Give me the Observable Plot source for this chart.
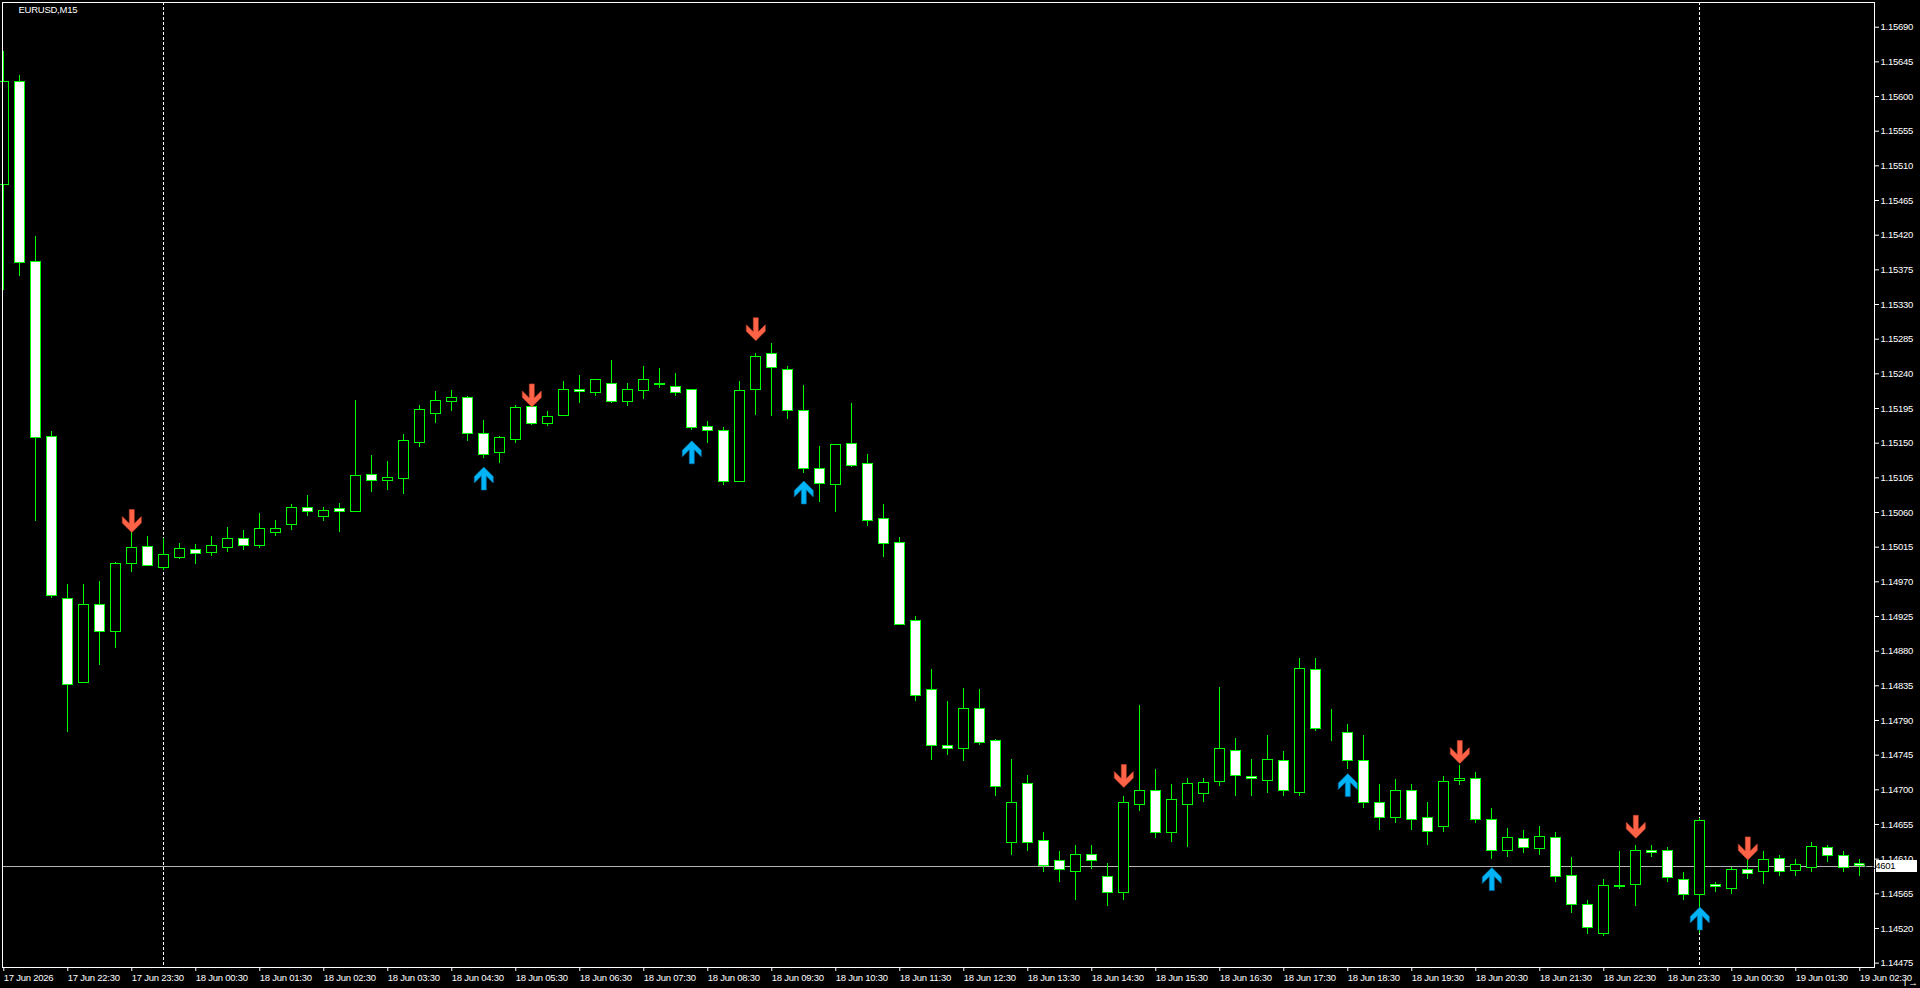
<!DOCTYPE html>
<html><head><meta charset="utf-8">
<script src="https://cdn.jsdelivr.net/npm/d3@7"></script>
<script src="https://cdn.jsdelivr.net/npm/@observablehq/plot@0.6"></script>
<style>html,body{margin:0;padding:0;background:#000;overflow:hidden}</style>
</head><body><div id="chart"></div>
<script>
const chartTitle = "EURUSD,M15";
// bar index 0 = 17 Jun 21:30, one bar per 15 minutes
const opens = [1.15485,1.15619,1.15385,1.15158,1.14948,1.14838,1.14940,1.14905,1.14993,1.15015,
1.14988,1.15001,1.15011,1.15008,1.15014,1.15026,1.15017,1.15034,1.15044,1.15066,
1.15054,1.15064,1.15060,1.15109,1.15101,1.15103,1.15150,1.15188,1.15204,1.15208,
1.15162,1.15137,1.15154,1.15197,1.15175,1.15185,1.15219,1.15215,1.15227,1.15204,
1.15218,1.15227,1.15223,1.15219,1.15171,1.15166,1.15100,1.15219,1.15266,1.15245,
1.15192,1.15117,1.15096,1.15149,1.15123,1.15052,1.15021,1.14919,1.14830,1.14757,
1.14753,1.14805,1.14763,1.14631,1.14707,1.14633,1.14607,1.14593,1.14615,1.14587,
1.14566,1.14680,1.14699,1.14644,1.14680,1.14695,1.14710,1.14750,1.14717,1.14712,
1.14738,1.14696,1.14855,1.14776,1.14774,1.14738,1.14683,1.14663,1.14698,1.14663,
1.14652,1.14712,1.14714,1.14661,1.14620,1.14636,1.14623,1.14637,1.14588,1.14550,
1.14513,1.14575,1.14577,1.14620,1.14620,1.14583,1.14563,1.14577,1.14571,1.14596,
1.14593,1.14610,1.14594,1.14598,1.14625,1.14614,1.14604];
const highs = [1.15659,1.15627,1.15418,1.15165,1.14967,1.14966,1.14970,1.14995,1.15035,1.15029,
1.15026,1.15020,1.15018,1.15029,1.15040,1.15037,1.15059,1.15050,1.15070,1.15082,
1.15066,1.15072,1.15205,1.15134,1.15126,1.15161,1.15199,1.15217,1.15218,1.15211,
1.15179,1.15159,1.15199,1.15198,1.15191,1.15230,1.15238,1.15233,1.15257,1.15228,
1.15250,1.15247,1.15240,1.15220,1.15178,1.15170,1.15230,1.15266,1.15279,1.15250,
1.15225,1.15146,1.15148,1.15201,1.15135,1.15071,1.15027,1.14925,1.14856,1.14815,
1.14832,1.14830,1.14765,1.14739,1.14718,1.14644,1.14620,1.14628,1.14628,1.14604,
1.14691,1.14809,1.14726,1.14707,1.14715,1.14715,1.14833,1.14766,1.14739,1.14771,
1.14750,1.14870,1.14870,1.14804,1.14785,1.14771,1.14707,1.14714,1.14707,1.14683,
1.14717,1.14731,1.14723,1.14676,1.14650,1.14647,1.14652,1.14644,1.14612,1.14556,
1.14583,1.14620,1.14628,1.14628,1.14625,1.14593,1.14663,1.14580,1.14599,1.14609,
1.14620,1.14615,1.14609,1.14631,1.14628,1.14620,1.14609];
const lows = [1.15348,1.15367,1.15048,1.14948,1.14774,1.14838,1.14862,1.14883,1.14982,1.14990,
1.14985,1.14999,1.14993,1.15003,1.15008,1.15011,1.15013,1.15029,1.15037,1.15055,
1.15048,1.15034,1.15060,1.15086,1.15088,1.15084,1.15145,1.15175,1.15191,1.15152,
1.15130,1.15123,1.15149,1.15173,1.15171,1.15184,1.15201,1.15210,1.15202,1.15197,
1.15207,1.15221,1.15210,1.15166,1.15149,1.15095,1.15100,1.15186,1.15184,1.15181,
1.15111,1.15073,1.15060,1.15118,1.15042,1.15002,1.14914,1.14815,1.14738,1.14745,
1.14737,1.14758,1.14691,1.14615,1.14620,1.14593,1.14580,1.14556,1.14596,1.14548,
1.14556,1.14672,1.14637,1.14631,1.14625,1.14683,1.14704,1.14691,1.14691,1.14695,
1.14691,1.14691,1.14776,1.14763,1.14726,1.14676,1.14647,1.14656,1.14647,1.14628,
1.14644,1.14706,1.14656,1.14609,1.14612,1.14617,1.14615,1.14580,1.14540,1.14512,
1.14509,1.14571,1.14548,1.14612,1.14580,1.14556,1.14513,1.14567,1.14564,1.14583,
1.14577,1.14587,1.14588,1.14593,1.14606,1.14593,1.14587];
const closes = [1.15619,1.15384,1.15157,1.14952,1.14836,1.14940,1.14905,1.14993,1.15014,1.14990,
1.15005,1.15013,1.15006,1.15017,1.15026,1.15016,1.15039,1.15039,1.15066,1.15061,
1.15062,1.15061,1.15108,1.15101,1.15105,1.15153,1.15193,1.15205,1.15209,1.15162,
1.15135,1.15157,1.15196,1.15175,1.15184,1.15219,1.15217,1.15232,1.15204,1.15219,
1.15232,1.15225,1.15215,1.15170,1.15166,1.15099,1.15218,1.15262,1.15248,1.15192,
1.15116,1.15097,1.15148,1.15120,1.15049,1.15019,1.14914,1.14822,1.14757,1.14753,
1.14805,1.14761,1.14703,1.14683,1.14631,1.14601,1.14596,1.14615,1.14607,1.14566,
1.14683,1.14699,1.14644,1.14687,1.14707,1.14709,1.14753,1.14718,1.14714,1.14739,
1.14699,1.14857,1.14779,1.14776,1.14738,1.14683,1.14663,1.14698,1.14661,1.14645,
1.14710,1.14714,1.14661,1.14620,1.14637,1.14625,1.14639,1.14587,1.14550,1.14520,
1.14575,1.14574,1.14620,1.14618,1.14585,1.14563,1.14660,1.14574,1.14596,1.14591,
1.14609,1.14593,1.14602,1.14626,1.14614,1.14599,1.14601];

const sellBars = [8, 33, 47, 70, 91, 102, 109];
const sellLevels = [1.15034, 1.15197, 1.15283, 1.14703, 1.14734, 1.14637, 1.14609];
const buyBars = [30, 43, 50, 84, 93, 106];
const buyLevels = [1.15119, 1.15153, 1.15101, 1.14721, 1.14599, 1.14548];

const daySeparatorBars = [10, 106];
const timeLabelBars = [0,4,8,12,16,20,24,28,32,36,40,44,48,52,56,60,64,68,72,76,80,84,88,92,96,100,104,108,112,116];
const timeLabels = ["17 Jun 2026","17 Jun 22:30","17 Jun 23:30","18 Jun 00:30","18 Jun 01:30","18 Jun 02:30",
"18 Jun 03:30","18 Jun 04:30","18 Jun 05:30","18 Jun 06:30","18 Jun 07:30","18 Jun 08:30","18 Jun 09:30",
"18 Jun 10:30","18 Jun 11:30","18 Jun 12:30","18 Jun 13:30","18 Jun 14:30","18 Jun 15:30","18 Jun 16:30",
"18 Jun 17:30","18 Jun 18:30","18 Jun 19:30","18 Jun 20:30","18 Jun 21:30","18 Jun 22:30","18 Jun 23:30",
"19 Jun 00:30","19 Jun 01:30","19 Jun 02:30"];
const priceTicks = [1.15690,1.15645,1.15600,1.15555,1.15510,1.15465,1.15420,1.15375,1.15330,1.15285,
1.15240,1.15195,1.15150,1.15105,1.15060,1.15015,1.14970,1.14925,1.14880,1.14835,1.14790,1.14745,
1.14700,1.14655,1.14610,1.14565,1.14520,1.14475];

const candles = opens.map((o, i) => ({i, open: o, high: highs[i], low: lows[i], close: closes[i]}));
const sells = sellBars.map((b, k) => ({i: b, price: sellLevels[k]}));
const buys = buyBars.map((b, k) => ({i: b, price: buyLevels[k]}));
const labelOf = new Map(timeLabelBars.map((b, k) => [b, timeLabels[k]]));
const lastPrice = closes[closes.length - 1];

const downArrow = {draw(c) {
  c.moveTo(0, 0); c.lineTo(-9.5, -9.5); c.lineTo(-9.5, -16); c.lineTo(-2.5, -9);
  c.lineTo(-2.5, -23); c.lineTo(2.5, -23); c.lineTo(2.5, -9); c.lineTo(9.5, -16);
  c.lineTo(9.5, -9.5); c.closePath();
}};
const upArrow = {draw(c) {
  c.moveTo(0, 0); c.lineTo(-9.5, 9.5); c.lineTo(-9.5, 16); c.lineTo(-2.5, 9);
  c.lineTo(-2.5, 23); c.lineTo(2.5, 23); c.lineTo(2.5, 9); c.lineTo(9.5, 16);
  c.lineTo(9.5, 9.5); c.closePath();
}};

const GREEN = "#00ff00";
const plot = Plot.plot({
  width: 1920, height: 988,
  marginLeft: 2, marginRight: 46, marginTop: 2, marginBottom: 21,
  style: "background:#000;color:#fff;font-family:'Liberation Sans',Arial,sans-serif;font-size:9.5px;letter-spacing:-0.25px;",
  x: {type: "linear", domain: [-0.08125, 116.91875]},
  y: {type: "linear", domain: [1.1446931, 1.1572207]},
  marks: [
    Plot.ruleX(daySeparatorBars, {x: d => d, stroke: "#fff", strokeDasharray: "3,2", shapeRendering: "crispEdges"}),
    Plot.ruleY([lastPrice], {y: d => d, stroke: "#b4b4b4", shapeRendering: "crispEdges"}),
    Plot.ruleX(candles, {x: "i", y1: "low", y2: "high", stroke: GREEN, shapeRendering: "crispEdges"}),
    Plot.rect(candles, {
      x1: d => d.i - 0.3125, x2: d => d.i + 0.3125, y1: "open", y2: "close",
      fill: d => d.close < d.open ? "#ffffff" : "#000000", stroke: GREEN, strokeWidth: 1,
      shapeRendering: "crispEdges"
    }),
    Plot.dot(sells, {x: "i", y: "price", symbol: downArrow, fill: "#ff6347", stroke: "#c8452c", strokeWidth: 0.6, r: 5}),
    Plot.dot(buys, {x: "i", y: "price", symbol: upArrow, fill: "#00b4f5", stroke: "#0a6fa8", strokeWidth: 0.6, r: 5}),
    Plot.frame({stroke: "#fff", shapeRendering: "crispEdges"}),
    Plot.axisY(priceTicks, {anchor: "right", tickSize: 4, tickPadding: 2, tickFormat: d => d.toFixed(5), fill: "#fff", stroke: "#fff"}),
    Plot.axisX(timeLabelBars, {anchor: "bottom", tickSize: 4, tickPadding: 3, tickFormat: d => labelOf.get(d), textAnchor: "start", fill: "#fff", stroke: "#fff"}),
    Plot.text([chartTitle], {frameAnchor: "top-left", dx: 16, dy: 4, lineAnchor: "top", textAnchor: "start", fill: "#fff", fontSize: 9.5})
  ]
});
document.getElementById("chart").appendChild(plot);

// current price label box on the price scale
const yPos = plot.scale("y").apply(lastPrice);
const svg = d3.select(plot);
const g = svg.append("g");
g.append("rect").attr("x", 1876).attr("y", Math.round(yPos) - 6).attr("width", 41).attr("height", 12).attr("fill", "#fff");
g.append("text").attr("x", 1879).attr("y", Math.round(yPos)).attr("dy", "0.35em").attr("fill", "#000")
  .attr("font-family", "'Liberation Sans',Arial,sans-serif").attr("font-size", 9.5).text(lastPrice.toFixed(5));
</script></body></html>
